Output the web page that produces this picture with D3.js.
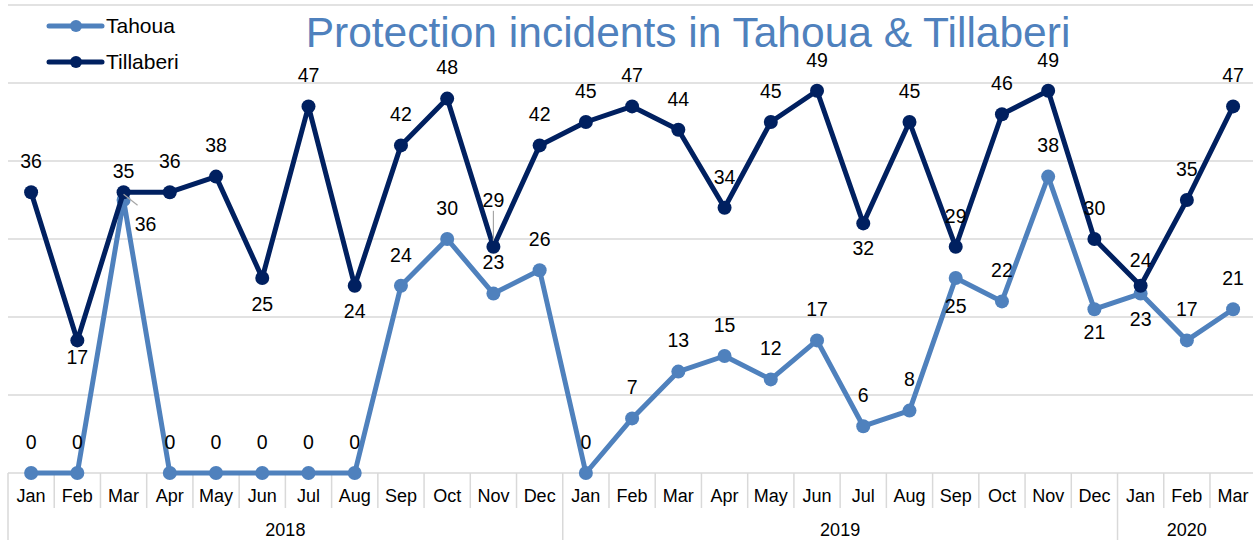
<!DOCTYPE html>
<html>
<head>
<meta charset="utf-8">
<script src="https://cdn.jsdelivr.net/npm/d3@7"></script>
<style>
  body { margin: 0; background: #fff; }
  svg { display: block; font-family: "Liberation Sans", Arial, sans-serif; }
</style>
</head>
<body>
<svg id="chart" width="1253" height="540"></svg>
<script>
// months Jan 2018 .. Mar 2020
const months = ['Jan','Feb','Mar','Apr','May','Jun','Jul','Aug','Sep','Oct','Nov','Dec',
  'Jan','Feb','Mar','Apr','May','Jun','Jul','Aug','Sep','Oct','Nov','Dec',
  'Jan','Feb','Mar'];
const years = [
  { label: '2018', from: 0, to: 12 },
  { label: '2019', from: 12, to: 24 },
  { label: '2020', from: 24, to: 27 }
];
const tahoua = [0, 0, 35, 0, 0, 0, 0, 0, 24, 30, 23, 26,
  0, 7, 13, 15, 12, 17, 6, 8, 25, 22, 38, 21,
  23, 17, 21];
const tillaberi = [36, 17, 36, 36, 38, 25, 47, 24, 42, 48, 29, 42,
  45, 47, 44, 34, 45, 49, 32, 45, 29, 46, 49, 30,
  24, 35, 47];
const yTicks = [0, 10, 20, 30, 40, 50, 60];

const lightBlue = '#4f81bd';
const navy = '#002060';

const svg = d3.select('#chart');
const idx = d3.range(months.length);

// band step ~46.2px, first band starts at x=8 (last one runs off the edge)
const x = d3.scaleBand().domain(idx).range([8, 8 + 27 * 46.23]);
const y = d3.scaleLinear().domain([0, 60]).range([473, 5]);
const cx = i => x(i) + x.bandwidth() / 2;

// gridlines
svg.append('g')
  .selectAll('line')
  .data(yTicks.filter(d => d > 0))
  .join('line')
  .attr('x1', 8).attr('x2', 1253)
  .attr('y1', d => y(d)).attr('y2', d => y(d))
  .attr('stroke', '#d9d9d9').attr('stroke-width', 1.5);

// category axis (two levels)
const axis = svg.append('g').attr('stroke', '#d9d9d9').attr('stroke-width', 1.5);
axis.append('line').attr('x1', 8).attr('x2', 1253).attr('y1', y(0)).attr('y2', y(0));
axis.selectAll('line.mtick')
  .data(idx.filter(i => !years.some(yr => yr.from == i)))
  .join('line')
  .attr('class', 'mtick')
  .attr('x1', i => x(i)).attr('x2', i => x(i))
  .attr('y1', y(0)).attr('y2', 508);
axis.selectAll('line.ytick')
  .data(years)
  .join('line')
  .attr('class', 'ytick')
  .attr('x1', d => x(d.from)).attr('x2', d => x(d.from))
  .attr('y1', y(0)).attr('y2', 540);

svg.append('g')
  .selectAll('text')
  .data(months)
  .join('text')
  .attr('x', (d, i) => cx(i))
  .attr('y', 502)
  .attr('text-anchor', 'middle')
  .attr('font-size', 18)
  .attr('fill', '#000')
  .text(d => d);

svg.append('g')
  .selectAll('text')
  .data(years)
  .join('text')
  .attr('x', d => (x(d.from) + x(d.to - 1) + x.bandwidth()) / 2)
  .attr('y', 536)
  .attr('text-anchor', 'middle')
  .attr('font-size', 18)
  .attr('fill', '#000')
  .text(d => d.label);

// series
const line = d3.line().x((d, i) => cx(i)).y(d => y(d));

function drawSeries(vals, col) {
  const g = svg.append('g');
  g.append('path')
    .datum(vals)
    .attr('d', line)
    .attr('fill', 'none')
    .attr('stroke', col)
    .attr('stroke-width', 5)
    .attr('stroke-linejoin', 'round');
  g.selectAll('circle')
    .data(vals)
    .join('circle')
    .attr('cx', (d, i) => cx(i))
    .attr('cy', d => y(d))
    .attr('r', 7)
    .attr('fill', col);
}
drawSeries(tahoua, lightBlue);
drawSeries(tillaberi, navy);

// data labels: default above the point, a few moved by hand
const tahouaPos = { 2: [0, -29], 20: [0, 28], 23: [0, 23], 24: [0, 26] };
const tillaPos = { 1: [0, 17], 2: [0, 28], 5: [0, 26], 7: [0, 25], 10: [0, -47], 18: [0, 25], 24: [0, -26] };

function drawLabels(vals, pos, cls) {
  svg.append('g')
    .selectAll('text')
    .data(vals)
    .join('text')
    .attr('class', cls)
    .attr('x', (d, i) => cx(i) + (pos[i] ? pos[i][0] : 0))
    .attr('y', (d, i) => y(d) + (pos[i] ? pos[i][1] : -31))
    .attr('dy', '0.35em')
    .attr('text-anchor', 'middle')
    .attr('font-size', 19.5)
    .attr('fill', '#000')
    .text(d => d);
}
drawLabels(tahoua, tahouaPos, 'lt');
drawLabels(tillaberi, tillaPos, 'ln');

// Mar 2018: Tillaberi label pulled down-right with a leader line
svg.selectAll('text.ln').filter((d, i) => i == 2)
  .attr('x', cx(2) + 22).attr('y', y(36) + 32);
svg.append('line')
  .attr('x1', cx(2)).attr('y1', y(36) + 2)
  .attr('x2', cx(2) + 14).attr('y2', y(36) + 13)
  .attr('stroke', '#a6a6a6').attr('stroke-width', 1.2);
// Nov 2018 leader line
svg.append('line')
  .attr('x1', cx(10)).attr('y1', y(29) - 36)
  .attr('x2', cx(10)).attr('y2', y(29) - 6)
  .attr('stroke', '#a6a6a6').attr('stroke-width', 1.2);

// title
svg.append('text')
  .attr('x', 688).attr('y', 47)
  .attr('text-anchor', 'middle')
  .attr('font-size', 42.5)
  .attr('fill', lightBlue)
  .text('Protection incidents in Tahoua & Tillaberi');

// legend
const legend = svg.append('g');
[['Tahoua', lightBlue, 26], ['Tillaberi', navy, 62]].forEach(([name, col, ly]) => {
  legend.append('line')
    .attr('x1', 49).attr('x2', 102).attr('y1', ly).attr('y2', ly)
    .attr('stroke', col).attr('stroke-width', 5).attr('stroke-linecap', 'round');
  legend.append('circle').attr('cx', 76).attr('cy', ly).attr('r', 6).attr('fill', col);
  legend.append('text')
    .attr('x', 106).attr('y', ly).attr('dy', '0.35em')
    .attr('font-size', 21).attr('fill', '#000')
    .text(name);
});
</script>
</body>
</html>
